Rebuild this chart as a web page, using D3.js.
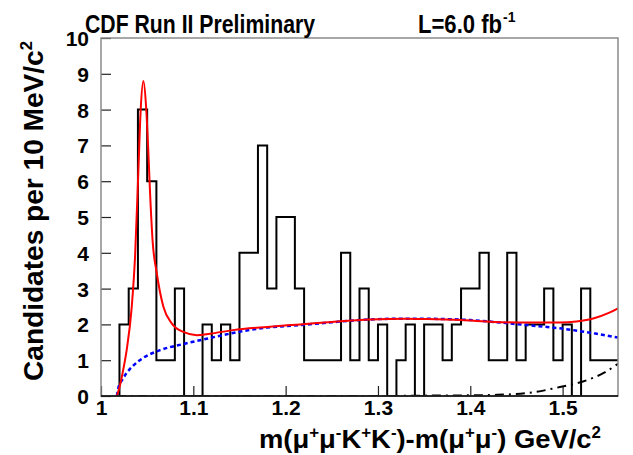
<!DOCTYPE html>
<html>
<head>
<meta charset="utf-8">
<script src="https://cdn.jsdelivr.net/npm/d3@7"></script>
<style>
body { margin: 0; background: #fff; }
svg { display: block; font-family: "Liberation Sans", Arial, sans-serif; font-weight: bold; }
</style>
</head>
<body>
<svg></svg>
<script>
var margin = {top: 38, right: 15, bottom: 59, left: 101},
    W = 633, H = 455,
    width = W - margin.left - margin.right,
    height = H - margin.top - margin.bottom;

// histogram: 10 MeV bins starting at 1.02
var histLo = 1.02, binWidth = 0.01;
var counts = [2, 3, 8, 6, 1, 1, 3, 0, 0, 2,
              1, 2, 1, 4, 4, 7, 3, 5, 5, 3,
              1, 1, 1, 1, 4, 1, 3, 1, 2, 0,
              1, 2, 0, 2, 2, 1, 2, 3, 3, 4,
              1, 1, 4, 1, 2, 2, 3, 1, 2, 0,
              3, 1, 1, 1];

// total fit (red)
var fitX = [1.0172, 1.0206, 1.0242, 1.0278, 1.0333, 1.0369, 1.0405, 1.043, 1.0459, 1.0488,
            1.0513, 1.0531, 1.056, 1.0603, 1.0675, 1.0766, 1.0892, 1.1037, 1.118, 1.143,
            1.18, 1.216, 1.25, 1.292, 1.33, 1.353, 1.39, 1.425, 1.461, 1.497,
            1.515, 1.534, 1.55, 1.56];
var fitY = [0, 0.3, 0.75, 1.28, 2.49, 3.9, 6.3, 8.0, 8.8, 8.1,
            6.8, 5.7, 4.3, 3.45, 2.5, 2.03, 1.79, 1.7, 1.74, 1.84,
            1.93, 2.0, 2.07, 2.14, 2.16, 2.15, 2.12, 2.07, 2.05, 2.05,
            2.08, 2.17, 2.32, 2.45];

// background (blue dotted)
var bkgX = [1.0172, 1.019, 1.023, 1.028, 1.035, 1.046, 1.064, 1.089, 1.118, 1.151,
            1.18, 1.216, 1.25, 1.292, 1.33, 1.371, 1.40, 1.425, 1.461, 1.497,
            1.534, 1.56];
var bkgY = [0, 0.25, 0.45, 0.65, 0.85, 1.07, 1.28, 1.45, 1.62, 1.8,
            1.91, 1.98, 2.06, 2.14, 2.16, 2.15, 2.12, 2.07, 1.98, 1.89,
            1.75, 1.63];

// second component (black dash-dot)
var compX = [1.0172, 1.1, 1.2, 1.3, 1.35, 1.4, 1.425, 1.461, 1.497, 1.526, 1.545, 1.56];
var compY = [0, 0, 0, 0, 0.01, 0.02, 0.03, 0.08, 0.25, 0.44, 0.65, 0.9];

var xTicks = [1, 1.1, 1.2, 1.3, 1.4, 1.5];
var xTickLabels = ["1", "1.1", "1.2", "1.3", "1.4", "1.5"];
var yTicks = [0, 1, 2, 3, 4, 5, 6, 7, 8, 9, 10];

var svg = d3.select("svg").attr("width", W).attr("height", H),
    g = svg.append("g").attr("transform", "translate(" + margin.left + "," + margin.top + ")");

var x = d3.scaleLinear().domain([1, 1.56]).range([0, width]);
var y = d3.scaleLinear().domain([0, 10]).range([height, 0]);

svg.append("defs").append("clipPath").attr("id", "clip")
  .append("rect").attr("width", width).attr("height", height);

// axes (ticks pointing inward)
var xAxis = g.append("g")
    .attr("transform", "translate(0," + height + ")")
    .call(d3.axisBottom(x).tickValues(xTicks).tickSize(-10).tickPadding(4)
      .tickFormat(function(d, i) { return xTickLabels[i]; }));
var yAxis = g.append("g")
    .call(d3.axisLeft(y).tickValues(yTicks).tickSize(-10).tickPadding(12));

[xAxis, yAxis].forEach(function(a) {
  a.select(".domain").remove();
  a.selectAll("line").attr("stroke", "#222").attr("stroke-width", 1.2);
  a.selectAll("text").attr("fill", "#000").style("font-size", "21px").style("font-weight", "bold")
    .style("font-family", "'Liberation Sans', Arial, sans-serif");
});
yAxis.selectAll("text").attr("dy", "0.36em");

var plot = g.append("g").attr("clip-path", "url(#clip)");

// histogram outline
var pts = counts.map(function(c, i) { return [histLo + i * binWidth, c]; });
pts.unshift([histLo, 0]);
pts.push([histLo + counts.length * binWidth, counts[counts.length - 1]]);

var step = d3.line()
    .x(function(d) { return x(d[0]); })
    .y(function(d) { return y(d[1]); })
    .curve(d3.curveStepAfter);

plot.append("path")
    .datum(pts)
    .attr("d", step)
    .attr("fill", "none")
    .attr("stroke", "#000")
    .attr("stroke-width", 2);

var smooth = d3.line()
    .x(function(d) { return x(d[0]); })
    .y(function(d) { return y(d[1]); })
    .curve(d3.curveMonotoneX);

function zip(a, b) { return a.map(function(v, i) { return [v, b[i]]; }); }

plot.append("path")
    .datum(zip(compX, compY))
    .attr("d", smooth)
    .attr("fill", "none")
    .attr("stroke", "#000")
    .attr("stroke-width", 2)
    .attr("stroke-dasharray", "9,5,2,5");

plot.append("path")
    .datum(zip(bkgX, bkgY))
    .attr("d", smooth)
    .attr("fill", "none")
    .attr("stroke", "#0000ff")
    .attr("stroke-width", 2.5)
    .attr("stroke-dasharray", "4,3");

plot.append("path")
    .datum(zip(fitX, fitY))
    .attr("d", smooth)
    .attr("fill", "none")
    .attr("stroke", "#ff0000")
    .attr("stroke-width", 2);

// frame
g.append("rect")
    .attr("width", width).attr("height", height)
    .attr("fill", "none").attr("stroke", "#8a8a8a").attr("stroke-width", 1.5);
g.append("line")
    .attr("x1", 0).attr("x2", width).attr("y1", height).attr("y2", height)
    .attr("stroke", "#000").attr("stroke-width", 1.5);

// labels
svg.append("text")
    .attr("x", 85).attr("y", 33)
    .attr("font-size", 25)
    .attr("textLength", 230).attr("lengthAdjust", "spacingAndGlyphs")
    .text("CDF Run II Preliminary");

var lum = svg.append("text").attr("x", 418).attr("y", 33).attr("font-size", 25);
lum.append("tspan").attr("textLength", 84).attr("lengthAdjust", "spacingAndGlyphs").text("L=6.0 fb");
lum.append("tspan").attr("dx", 1).attr("dy", -11).attr("font-size", 14).text("-1");

var xt = svg.append("text")
    .attr("x", 601).attr("y", 448)
    .attr("text-anchor", "end")
    .attr("font-size", 26)
    .attr("textLength", 342).attr("lengthAdjust", "spacingAndGlyphs");
[["m(\u03bc", 0], ["+", 1], ["\u03bc", 0], ["-", 1], ["K", 0], ["+", 1], ["K", 0], ["-", 1],
 [")-m(\u03bc", 0], ["+", 1], ["\u03bc", 0], ["-", 1], [") GeV/c", 0], ["2", 1]].forEach(function(p, i, arr) {
  var prevSup = i > 0 && arr[i - 1][1];
  var dy = p[1] && !prevSup ? -10 : (!p[1] && prevSup ? 10 : 0);
  xt.append("tspan").attr("dy", dy).attr("font-size", p[1] ? 16 : 26).text(p[0]);
});

var yt = svg.append("text")
    .attr("transform", "translate(43,211) rotate(-90)")
    .attr("text-anchor", "middle")
    .attr("font-size", 27)
    .attr("textLength", 340).attr("lengthAdjust", "spacingAndGlyphs");
yt.append("tspan").text("Candidates per 10 MeV/c");
yt.append("tspan").attr("dy", -11).attr("font-size", 16).text("2");
</script>
</body>
</html>
